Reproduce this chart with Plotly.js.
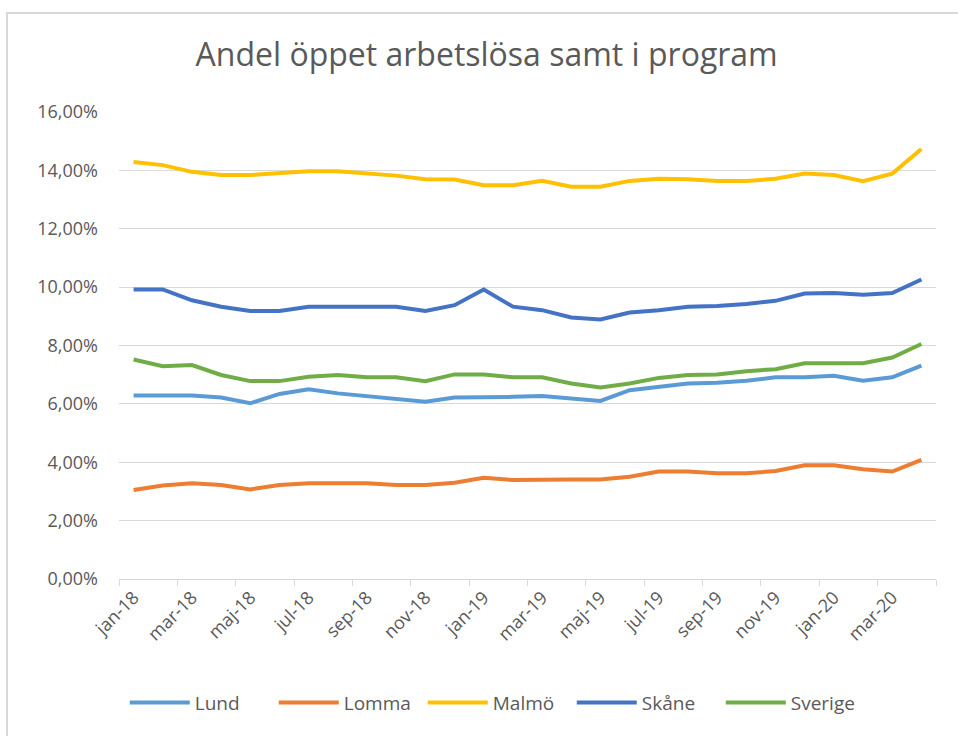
<!DOCTYPE html>
<html>
<head>
<meta charset="utf-8">
<script src="https://cdn.plot.ly/plotly-3.0.1.min.js"></script>
<style>
  html, body { margin: 0; padding: 0; width: 958px; height: 736px; overflow: hidden; background: #ffffff; }
  #frame { position: absolute; left: 6px; top: 12px; width: 1000px; height: 1000px; border: 2px solid #d9d9d9; box-sizing: border-box; }
  #chart { position: absolute; left: 0; top: 0; width: 958px; height: 736px; }
</style>
</head>
<body>
<div id="frame"></div>
<div id="chart"></div>
<script>
const months = ["jan-18","feb-18","mar-18","apr-18","maj-18","jun-18","jul-18","aug-18","sep-18","okt-18","nov-18","dec-18",
                "jan-19","feb-19","mar-19","apr-19","maj-19","jun-19","jul-19","aug-19","sep-19","okt-19","nov-19","dec-19",
                "jan-20","feb-20","mar-20","apr-20"];

const lund    = [6.29,6.29,6.29,6.22,6.02,6.34,6.50,6.36,6.27,6.19,6.07,6.22,6.22,6.24,6.27,6.19,6.10,6.47,6.59,6.70,6.72,6.79,6.91,6.91,6.96,6.79,6.91,7.31];
const lomma   = [3.05,3.20,3.28,3.22,3.07,3.22,3.28,3.28,3.28,3.22,3.22,3.30,3.47,3.39,3.41,3.41,3.41,3.50,3.68,3.68,3.62,3.62,3.70,3.90,3.90,3.76,3.68,4.08];
const malmo   = [14.29,14.18,13.95,13.84,13.84,13.91,13.97,13.97,13.89,13.82,13.70,13.69,13.49,13.49,13.64,13.44,13.44,13.64,13.71,13.70,13.64,13.64,13.71,13.89,13.84,13.63,13.89,14.73];
const skane   = [9.92,9.92,9.55,9.33,9.18,9.18,9.33,9.33,9.33,9.33,9.18,9.38,9.92,9.33,9.21,8.96,8.89,9.13,9.21,9.33,9.35,9.42,9.53,9.78,9.80,9.74,9.80,10.26];
const sverige = [7.52,7.29,7.33,6.99,6.78,6.78,6.93,6.99,6.91,6.91,6.78,7.01,7.01,6.91,6.91,6.70,6.56,6.70,6.89,6.99,7.01,7.12,7.19,7.39,7.39,7.39,7.59,8.05];

const seriesNames = ["Lund","Lomma","Malmö","Skåne","Sverige"];
const seriesData = [lund, lomma, malmo, skane, sverige];
const colors = ["#5B9BD5","#ED7D31","#FFC000","#4472C4","#70AD47"];

const traces = seriesNames.map((n, i) => ({
  type: "scatter",
  mode: "lines",
  name: n,
  x: months,
  y: seriesData[i],
  line: { color: colors[i], width: 4, shape: "linear" },
  hovertemplate: "%{x}: %{y:.2f}%<extra>" + n + "</extra>"
}));

const font = "Open Sans, Noto Sans, DejaVu Sans, sans-serif";

const layout = {
  width: 958,
  height: 736,
  paper_bgcolor: "rgba(0,0,0,0)",
  plot_bgcolor: "rgba(0,0,0,0)",
  separators: ", ",
  margin: { l: 119, r: 22, t: 112, b: 157 },
  title: {
    text: "Andel öppet arbetslösa samt i program",
    font: { family: font, size: 32, color: "#595959" },
    x: 0.508, xanchor: "center",
    y: 0.925, yanchor: "middle"
  },
  font: { family: font, color: "#595959" },
  xaxis: {
    type: "category",
    range: [-0.5, 27.5],
    dtick: 2,
    tickson: "boundaries",
    ticks: "outside",
    ticklen: 6,
    tickcolor: "#d9d9d9",
    tickangle: -45,
    showgrid: false,
    showline: true,
    linecolor: "#d9d9d9",
    linewidth: 1,
    tickfont: { family: font, size: 18, color: "#595959" },
    fixedrange: true
  },
  yaxis: {
    range: [0, 16],
    dtick: 2,
    tickformat: ".2f",
    ticksuffix: "%",
    showgrid: true,
    gridcolor: "#d9d9d9",
    gridwidth: 1,
    zeroline: false,
    showline: false,
    ticks: "",
    ticklabelstandoff: 20,
    tickfont: { family: font, size: 18, color: "#595959" },
    fixedrange: true
  },
  showlegend: true,
  legend: {
    orientation: "h",
    x: 0.463, xanchor: "center",
    y: -0.265, yanchor: "middle",
    font: { family: font, size: 19, color: "#595959" },
    itemwidth: 60,
    entrywidth: 74,
    entrywidthmode: "pixels",
    traceorder: "normal"
  }
};

Plotly.newPlot("chart", traces, layout, { displayModeBar: false, staticPlot: true });
</script>
</body>
</html>
